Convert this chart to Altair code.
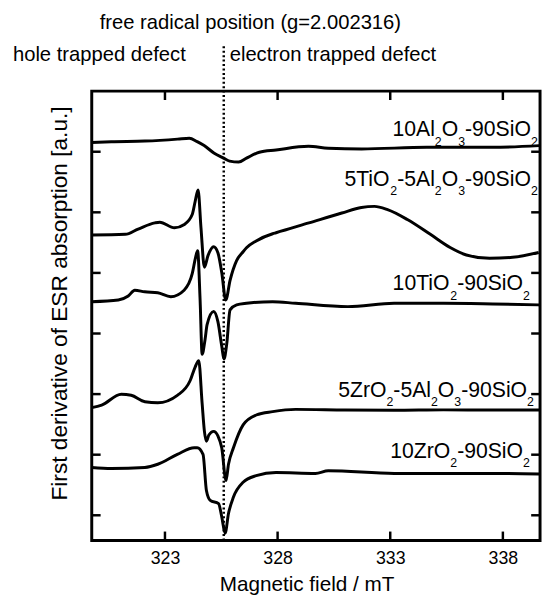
import altair as alt
import pandas as pd

FONT = "Liberation Sans"

# ---------------- axes ----------------
X_DOMAIN = [319.75, 339.65]
Y_DOMAIN = [-0.415, 7.0]
X_TICKS = [323, 328, 333, 338]
Y_TICKS = [0, 1, 2, 3, 4, 5, 6]
FREE_RADICAL_FIELD = 325.61

W, H = 455, 456

# ---------------- spectra ----------------
AL_FIELD = [319.75, 320.62, 322.11, 323.56, 324.08, 324.43, 324.74, 325.17, 325.61, 325.87,
            326.27, 326.62, 327.19, 327.93, 329.37, 330.25, 331.73, 334.62, 337.55, 339.61]
AL_SIGNAL = [6.154, 6.166, 6.176, 6.208, 6.224, 6.166, 6.101, 5.980, 5.894, 5.846,
             5.829, 5.894, 5.992, 6.029, 6.089, 6.057, 6.046, 6.073, 6.073, 6.101]

TIAL_FIELD = [319.75, 321.24, 321.81, 322.55, 322.77, 323.42, 323.86, 324.21, 324.34, 324.47,
              324.60, 324.75, 324.91, 325.16, 325.35, 325.52, 325.70, 325.89, 326.18, 326.47,
              326.62, 327.05, 327.78, 327.93, 329.39, 330.85, 331.72, 332.30, 332.88, 333.76,
              334.78, 335.66, 336.38, 337.41, 338.43, 339.59]
TIAL_SIGNAL = [4.626, 4.637, 4.724, 4.826, 4.837, 4.745, 4.800, 4.963, 5.179, 5.369,
               4.740, 4.094, 4.285, 4.431, 4.333, 4.008, 3.553, 3.878, 4.203, 4.350,
               4.415, 4.528, 4.647, 4.663, 4.826, 4.989, 5.081, 5.098, 5.044, 4.881,
               4.637, 4.420, 4.296, 4.241, 4.257, 4.338]

TI_FIELD = [319.75, 320.93, 321.37, 321.66, 322.10, 322.68, 323.26, 323.85, 324.21, 324.36,
            324.45, 324.56, 324.65, 324.78, 324.87, 325.16, 325.35, 325.52, 325.62, 325.74,
            325.89, 326.18, 326.62, 327.78, 328.80, 331.12, 333.17, 335.36, 337.55, 339.61]
TI_SIGNAL = [3.525, 3.553, 3.618, 3.715, 3.688, 3.672, 3.607, 3.715, 3.987, 4.257,
             4.366, 3.553, 2.659, 2.902, 3.146, 3.363, 3.195, 2.793, 2.577, 2.821,
             3.390, 3.472, 3.499, 3.525, 3.499, 3.444, 3.499, 3.499, 3.488, 3.472]

ZRAL_FIELD = [319.75, 320.19, 321.06, 321.50, 322.11, 322.68, 323.55, 324.12, 324.34, 324.50,
              324.65, 324.75, 324.84, 324.95, 325.16, 325.35, 325.52, 325.71, 325.82, 326.04,
              326.47, 327.05, 327.78, 328.80, 330.99, 333.18, 335.36, 337.55, 339.61]
ZRAL_SIGNAL = [1.776, 1.818, 1.997, 1.980, 1.873, 1.857, 1.980, 2.224, 2.447, 2.550,
               1.846, 1.390, 1.223, 1.325, 1.385, 1.309, 1.114, 0.572, 0.842, 1.114,
               1.493, 1.655, 1.711, 1.748, 1.737, 1.732, 1.740, 1.737, 1.737]

ZR_FIELD = [319.75, 320.62, 322.11, 322.68, 323.55, 324.30, 324.43, 324.69, 324.84, 325.01,
            325.38, 325.52, 325.67, 325.82, 326.04, 326.47, 327.05, 327.93, 329.68, 330.25,
            333.18, 335.36, 337.55, 339.61]
ZR_SIGNAL = [0.789, 0.772, 0.789, 0.842, 1.005, 1.114, 1.114, 1.005, 0.410, 0.247,
             0.192, -0.024, -0.296, 0.029, 0.301, 0.545, 0.654, 0.707, 0.691, 0.735,
             0.691, 0.691, 0.691, 0.680]

SERIES = ["10Al2O3-90SiO2", "5TiO2-5Al2O3-90SiO2", "10TiO2-90SiO2",
          "5ZrO2-5Al2O3-90SiO2", "10ZrO2-90SiO2"]
FIELDS = [AL_FIELD, TIAL_FIELD, TI_FIELD, ZRAL_FIELD, ZR_FIELD]
SIGNALS = [AL_SIGNAL, TIAL_SIGNAL, TI_SIGNAL, ZRAL_SIGNAL, ZR_SIGNAL]

# label pieces: (text, is_subscript)
LABEL_PIECES = [
    [("10Al", 0), ("2", 1), ("O", 0), ("3", 1), ("-90SiO", 0), ("2", 1)],
    [("5TiO", 0), ("2", 1), ("-5Al", 0), ("2", 1), ("O", 0), ("3", 1), ("-90SiO", 0), ("2", 1)],
    [("10TiO", 0), ("2", 1), ("-90SiO", 0), ("2", 1)],
    [("5ZrO", 0), ("2", 1), ("-5Al", 0), ("2", 1), ("O", 0), ("3", 1), ("-90SiO", 0), ("2", 1)],
    [("10ZrO", 0), ("2", 1), ("-90SiO", 0), ("2", 1)],
]
LABEL_RIGHT = [339.55, 339.55, 339.2, 339.38, 339.2]
LABEL_BASE = [6.252, 5.439, 3.715, 1.959, 0.951]

# ---------------- build tables ----------------
rows = []
for name, fx, fy in zip(SERIES, FIELDS, SIGNALS):
    for a, b in zip(fx, fy):
        rows.append({"series": name, "field": a, "signal": b})
curves = pd.DataFrame(rows)

MAIN_SIZE, SUB_SIZE, SUB_DROP = 21.5, 12.5, 9.5
CHAR_W = {"A": .667, "l": .222, "O": .778, "-": .333, "S": .667, "i": .222,
          "T": .611, "Z": .611, "r": .333}
PX_X = W / (X_DOMAIN[1] - X_DOMAIN[0])
PX_Y = H / (Y_DOMAIN[1] - Y_DOMAIN[0])


def text_w(s, size):
    return sum(CHAR_W.get(c, .556) for c in s) * size


seg_rows = []
for pieces, xr, yb in zip(LABEL_PIECES, LABEL_RIGHT, LABEL_BASE):
    widths = [text_w(t, SUB_SIZE if s else MAIN_SIZE) for t, s in pieces]
    pos = -sum(widths)
    for (t, s), w in zip(pieces, widths):
        seg_rows.append({"t": t, "sub": s,
                         "x": xr + pos / PX_X,
                         "y": yb - (SUB_DROP / PX_Y if s else 0)})
        pos += w
segs = pd.DataFrame(seg_rows)

XS = alt.Scale(domain=X_DOMAIN, nice=False, zero=False)
YS = alt.Scale(domain=Y_DOMAIN, nice=False, zero=False)
XAXIS = alt.Axis(values=X_TICKS, ticks=False, tickSize=0, domain=False, grid=False,
                 labelFont=FONT, labelFontSize=18, labelColor="black", labelPadding=9,
                 format="d", title="Magnetic field / mT", titleFont=FONT,
                 titleFontSize=21, titleFontWeight="normal", titleColor="black",
                 titleX=218, titleY=51, titleAlign="center", titleBaseline="alphabetic")
YAXIS = alt.Axis(values=Y_TICKS, labels=False, ticks=False, tickSize=0, domain=False,
                 grid=False, title="First derivative of ESR absorption [a.u.]",
                 titleFont=FONT, titleFontSize=23, titleFontWeight="normal",
                 titleColor="black", titleX=-26, titleY=215, titleAngle=270,
                 titleAlign="center", titleBaseline="alphabetic")


def xe(f):
    return alt.X(f, type="quantitative", scale=XS, axis=XAXIS)


def ye(f):
    return alt.Y(f, type="quantitative", scale=YS, axis=YAXIS)


lines = alt.Chart(curves).mark_line(color="black", strokeWidth=3,
                                    interpolate="monotone").encode(
    x=xe("field"), y=ye("signal"), detail="series:N")

fr = alt.Chart(pd.DataFrame({"f": [FREE_RADICAL_FIELD]})).mark_rule(
    color="black", strokeWidth=2.5, strokeDash=[2, 2.5]).encode(
    x=xe("f"), y=alt.value(H), y2=alt.value(-46))

xt = pd.DataFrame({"v": X_TICKS})
yt = pd.DataFrame({"v": Y_TICKS})
TL = 9
tick_style = dict(color="black", strokeWidth=2.5)
bt = alt.Chart(xt).mark_rule(**tick_style).encode(x=xe("v"), y=alt.value(H), y2=alt.value(H - TL))
tt = alt.Chart(xt).mark_rule(**tick_style).encode(x=xe("v"), y=alt.value(0), y2=alt.value(TL))
lt = alt.Chart(yt).mark_rule(**tick_style).encode(y=ye("v"), x=alt.value(0), x2=alt.value(TL))
rt = alt.Chart(yt).mark_rule(**tick_style).encode(y=ye("v"), x=alt.value(W), x2=alt.value(W - TL))

main_lbl = alt.Chart(segs[segs["sub"] == 0]).mark_text(
    font=FONT, fontSize=MAIN_SIZE, align="left", baseline="alphabetic", color="black").encode(
    x=xe("x"), y=ye("y"), text="t:N")
sub_lbl = alt.Chart(segs[segs["sub"] == 1]).mark_text(
    font=FONT, fontSize=SUB_SIZE, align="left", baseline="alphabetic", color="black").encode(
    x=xe("x"), y=ye("y"), text="t:N")

one = pd.DataFrame({"a": [0]})


def note(txt, px, py, align):
    return alt.Chart(one).mark_text(font=FONT, fontSize=20.5, align=align,
                                    baseline="alphabetic", color="black").encode(
        x=alt.value(px), y=alt.value(py), text=alt.value(txt))


n1 = note("free radical position (g=2.002316)", 161, -63, "center")
n2 = note("hole trapped defect", -80, -31, "left")
n3 = note("electron trapped defect", 140, -31, "left")

chart = alt.layer(lines, fr, bt, tt, lt, rt, main_lbl, sub_lbl, n1, n2, n3).properties(
    width=W, height=H,
    autosize=alt.AutoSizeParams(type="none"),
    padding={"left": 85, "top": 80, "right": 3, "bottom": 51},
    background="white",
).configure_view(stroke="black", strokeWidth=3)

chart.save("out.html", embed_options={"renderer": "svg", "actions": False})
